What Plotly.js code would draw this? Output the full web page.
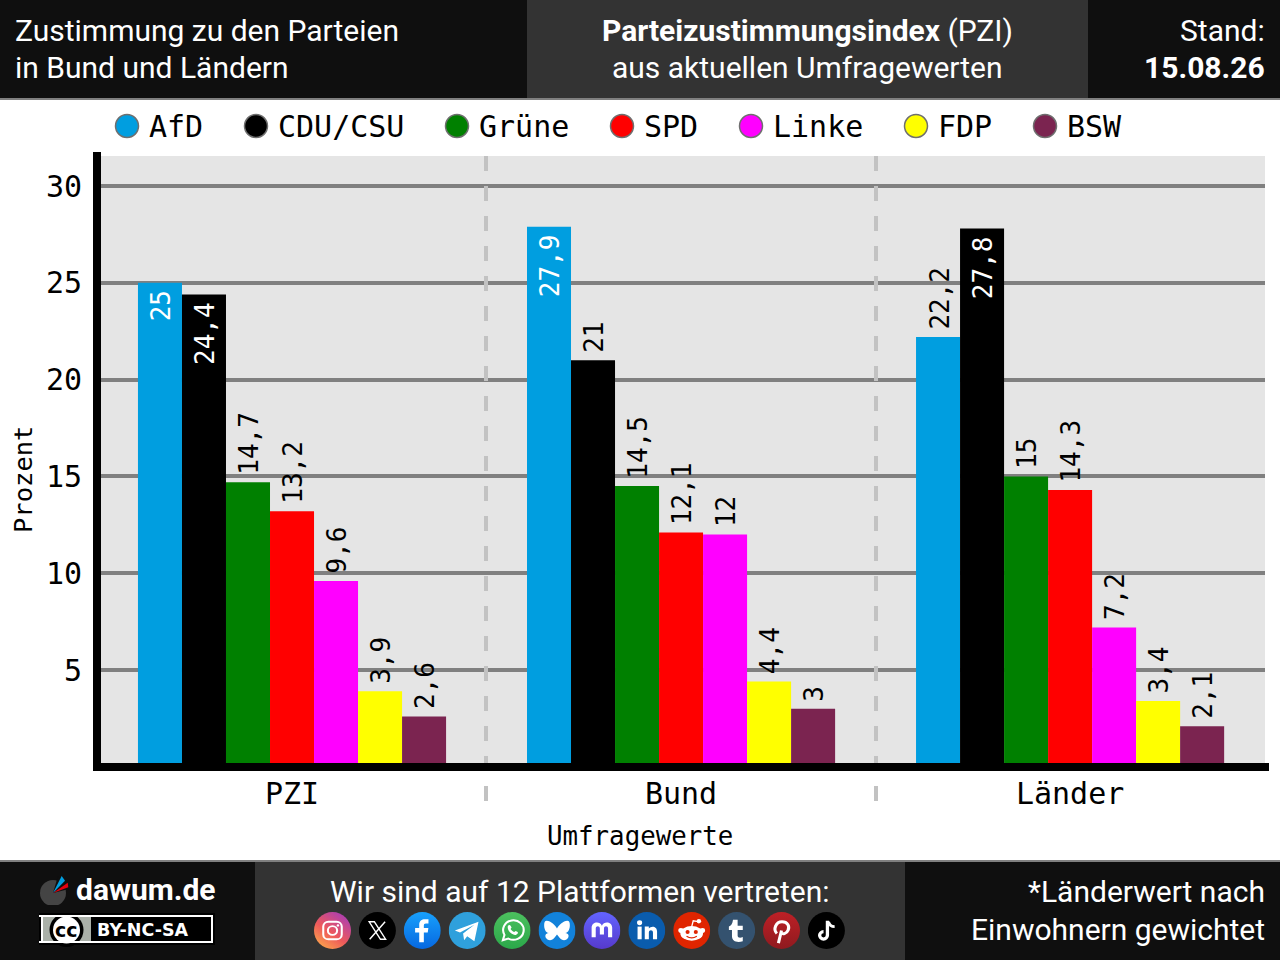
<!DOCTYPE html>
<html>
<head>
<meta charset="utf-8">
<script src="https://cdn.plot.ly/plotly-3.0.1.min.js"></script>
<style>html,body{margin:0;padding:0;background:#fff}#chart{width:1280px;height:960px}</style>
</head>
<body>
<div id="chart"></div>
<script>
const categories = ['PZI', 'Bund', 'Länder'];
const parties = ['AfD', 'CDU/CSU', 'Grüne', 'SPD', 'Linke', 'FDP', 'BSW'];
const partyColors = ['#009ee0', '#000000', '#008000', '#ff0000', '#ff00ff', '#ffff00', '#7b2450'];
const afd = [25, 27.9, 22.2];
const cdu = [24.4, 21, 27.8];
const gruene = [14.7, 14.5, 15];
const spd = [13.2, 12.1, 14.3];
const linke = [9.6, 12, 7.2];
const fdp = [3.9, 4.4, 3.4];
const bsw = [2.6, 3, 2.1];
const seriesValues = [afd, cdu, gruene, spd, linke, fdp, bsw];
const yTicks = [5, 10, 15, 20, 25, 30];

const W = 1280, H = 960;
const PLOT = { l: 101, r: 1265, t: 156, b: 763 };
const MONO = 'DejaVu Sans Mono';
const ROBOTO = 'Roboto';
const BAR_PX = 44; // width of one bar on screen, for centring the value labels

// pixel position -> paper coordinates of the plot area
const px = x => (x - PLOT.l) / (PLOT.r - PLOT.l);
const py = y => (PLOT.b - y) / (PLOT.b - PLOT.t);

function rect(x0, y0, x1, y1, color, layer) {
  return { type: 'rect', xref: 'paper', yref: 'paper', x0: px(x0), x1: px(x1), y0: py(y0), y1: py(y1),
    fillcolor: color, line: { width: 0 }, layer: layer || 'above' };
}
function label(x, y, text, size, anchor, font, color, bold) {
  return { xref: 'paper', yref: 'paper', x: px(x), y: py(y), text: bold ? '<b>' + text + '</b>' : text,
    showarrow: false, xanchor: anchor, yanchor: 'middle', align: anchor,
    borderpad: 0, borderwidth: 0,
    font: { family: font, size: size, color: color } };
}
function svgImage(svg, x, y, w, h) {
  return { source: 'data:image/svg+xml;charset=utf-8,' + encodeURIComponent(svg), xref: 'paper', yref: 'paper',
    x: px(x), y: py(y), sizex: w / (PLOT.r - PLOT.l), sizey: h / (PLOT.b - PLOT.t),
    xanchor: 'left', yanchor: 'top', sizing: 'stretch', layer: 'above' };
}

const traces = seriesValues.map((vals, i) => ({
  type: 'bar',
  name: parties[i],
  x: categories,
  y: vals,
  marker: { color: partyColors[i], line: { width: 0 } },
  hoverinfo: 'x+y'
}));

const shapes = [];
const annotations = [];
const images = [];

// value labels: tall bars carry them inside in white, all others sit above the bar
seriesValues.forEach((vals, i) => {
  vals.forEach((v, c) => {
    const inside = v > 24;
    annotations.push({
      xref: 'x', yref: 'y', x: c, y: v,
      text: String(v).replace('.', ','),
      showarrow: false, textangle: -90,
      xanchor: 'center', yanchor: inside ? 'top' : 'bottom',
      xshift: (i - 3) * BAR_PX + 1,
      yshift: inside ? -8 : 7,
      borderpad: 0, borderwidth: 0,
      font: { family: MONO, size: 26, color: inside ? '#ffffff' : '#000000' }
    });
  });
});

// group separators
[486, 876].forEach(x => {
  shapes.push({ type: 'line', xref: 'paper', yref: 'paper', x0: px(x), x1: px(x), y0: py(156), y1: py(801),
    line: { color: '#c2c2c2', width: 4, dash: '15px,15px' }, layer: 'above' });
});
// axis lines, slightly overshooting the panel
shapes.push(rect(93, 152, 101, 771, '#000000'));
shapes.push(rect(93, 763, 1269, 771, '#000000'));

// header
shapes.push(rect(0, 0, 1280, 98, '#0f0f0f', 'below'));
shapes.push(rect(527, 0, 1088, 98, '#333333', 'below'));
shapes.push(rect(0, 98, 1280, 100, '#808080', 'below'));
annotations.push(label(15, 31, 'Zustimmung zu den Parteien', 30, 'left', ROBOTO, '#ffffff'));
annotations.push(label(15, 67, 'in Bund und Ländern', 30, 'left', ROBOTO, '#ffffff'));
annotations.push(label(807.5, 31, '<b>Parteizustimmungsindex</b> (PZI)', 30, 'center', ROBOTO, '#ffffff'));
annotations.push(label(807.5, 67, 'aus aktuellen Umfragewerten', 30, 'center', ROBOTO, '#ffffff'));
annotations.push(label(1265, 31, 'Stand:', 30, 'right', ROBOTO, '#ffffff'));
annotations.push(label(1265, 67, '15.08.26', 30, 'right', ROBOTO, '#ffffff', true));

// legend row
const legendDot = [127, 256, 457, 622, 751, 916, 1045];
const legendText = [148.5, 278, 479, 644, 773, 938, 1066.5];
parties.forEach((p, i) => {
  shapes.push({ type: 'circle', xref: 'paper', yref: 'paper', x0: px(legendDot[i] - 11.5), x1: px(legendDot[i] + 11.5),
    y0: py(126 + 11.5), y1: py(126 - 11.5), fillcolor: partyColors[i], line: { color: '#6f6f6f', width: 1.5 }, layer: 'above' });
  annotations.push(label(legendText[i], 127, p, 30, 'left', MONO, '#000000'));
});

// axis captions
annotations.push(label(640, 836, 'Umfragewerte', 25.8, 'center', MONO, '#000000'));
annotations.push(Object.assign(label(23, 480, 'Prozent', 25.5, 'center', MONO, '#000000'), { textangle: -90 }));

// footer
shapes.push(rect(0, 860, 1280, 862, '#808080', 'below'));
shapes.push(rect(0, 862, 1280, 960, '#0f0f0f', 'below'));
shapes.push(rect(255, 862, 905, 960, '#333333', 'below'));
annotations.push(label(76, 889, '<b>dawum.de</b>', 30, 'left', ROBOTO, '#ffffff'));
annotations.push(label(580, 891, 'Wir sind auf 12 Plattformen vertreten:', 30, 'center', ROBOTO, '#ffffff'));
annotations.push(label(1265, 891, '*Länderwert nach', 30, 'right', ROBOTO, '#ffffff'));
annotations.push(label(1265, 929, 'Einwohnern gewichtet', 30, 'right', ROBOTO, '#ffffff'));

// dawum logo
images.push(svgImage('<svg xmlns="http://www.w3.org/2000/svg" width="30" height="30" viewBox="0 0 30 30"><circle cx="14" cy="18" r="13" fill="#444"/><path d="M14 18L19 1 30 14z" fill="#0f0f0f"/><path d="M14 18L22.700 1 26 5.700z" fill="#009ee0"/><path d="M14 18L28.700 7.700 29.300 12.300z" fill="#e3000f"/></svg>', 39, 875, 30, 30));

// CC badge
shapes.push(rect(39, 913, 215, 945, '#000000'));
shapes.push(rect(41, 915, 213, 943, '#ffffff'));
shapes.push(rect(43, 917, 211, 941, '#000000'));
shapes.push(rect(43, 917, 91, 941, '#aab0a8'));
shapes.push({ type: 'circle', xref: 'paper', yref: 'paper', x0: px(49.5), x1: px(83.5), y0: py(947), y1: py(913), fillcolor: '#000000', line: { width: 0 }, layer: 'above' });
shapes.push(rect(39, 941, 91, 943, '#ffffff'));
shapes.push(rect(39, 915, 91, 917, '#ffffff'));
shapes.push(rect(39, 943, 91, 945, '#000000'));
shapes.push(rect(39, 913, 91, 915, '#000000'));
shapes.push({ type: 'circle', xref: 'paper', yref: 'paper', x0: px(53), x1: px(80), y0: py(943.5), y1: py(916.5), fillcolor: '#ffffff', line: { width: 0 }, layer: 'above' });
annotations.push(label(66.5, 929.5, '<b>cc</b>', 19, 'center', 'DejaVu Sans', '#000000'));
annotations.push(label(96.5, 930, '<b>BY-NC-SA</b>', 17.5, 'left', 'DejaVu Sans', '#ffffff'));

// social icons, simplified
const wrap = (bg, inner, defs) => '<svg xmlns="http://www.w3.org/2000/svg" width="37" height="37" viewBox="0 0 36 38" preserveAspectRatio="none">' + (defs || '') +
  '<ellipse cx="18" cy="19" rx="18" ry="19" fill="' + bg + '"/>' + inner + '</svg>';
const grad = (id, a, b) => '<defs><linearGradient id="' + id + '" x1="0" y1="1" x2="0" y2="0"><stop offset="0" stop-color="' + a + '"/><stop offset="1" stop-color="' + b + '"/></linearGradient></defs>';
const icons = [
  wrap('url(#a)', '<rect x="9" y="10" width="18" height="18" rx="5" fill="none" stroke="#fff" stroke-width="2"/><circle cx="18" cy="19" r="4.500" fill="none" stroke="#fff" stroke-width="2"/><circle cx="23.300" cy="13.800" r="1.200" fill="#fff"/>',
    '<defs><linearGradient id="a" x1="0.100" y1="1" x2="0.800" y2="0"><stop offset="0" stop-color="#fdb04a"/><stop offset="0.450" stop-color="#ee5a5a"/><stop offset="1" stop-color="#a93cb8"/></linearGradient></defs>'),
  wrap('#000', '<path d="M10 10h5l11 18h-5zM25.500 10L10.500 28" fill="none" stroke="#fff" stroke-width="1.400"/>'),
  wrap('url(#b)', '<path d="M15 31V21h-4v-4.500h4v-3.500c0-4 2.500-5.500 5.500-5.500h3.500v4.200h-2.500c-1.500 0-2 .7-2 2.100v2.700h4.400l-.6 4.500h-3.800v10z" fill="#fff"/>', grad('b', '#0668e1', '#18a0fb')),
  wrap('#2fa0dc', '<path d="M6 19L29 10l-4 20-7-5-3 4-1-7 11-9-14 8z" fill="#fff"/>'),
  wrap('url(#c)', '<path d="M9 29l1.600-5.500a10 10 0 1 1 3.700 3.700z" fill="none" stroke="#fff" stroke-width="2"/><path d="M14 14c1-1 2-1 2.500 0l1 2-1 1.500c1 1.500 2 2.500 3.500 3l1.500-1 2 1c.5 1.500-.5 2.500-2 3-4 .5-9-5-7.500-9.500z" fill="#fff"/>', grad('c', '#2ba84a', '#4cc05e')),
  wrap('#1282da', '<path d="M18 17c-1.500-3-6-8-10-8-2 0-2.500 2-2.500 4.500 0 3 1 7.500 4.500 8-3.500 .5-4 3-2.500 5.500 2 3 6 2.500 8-.5l2.500-3.500 2.500 3.500c2 3 6 3.500 8 .5 1.500-2.500 1-5-2.500-5.500 3.500-.5 4.500-5 4.500-8 0-2.500-.5-4.500-2.500-4.500-4 0-8.500 5-10 8z" fill="#fff"/>'),
  wrap('url(#d)', '<path d="M8 26V16c0-6 8-7 10-2 2-5 10-4 10 2v10h-4v-9c0-3-4-3-4 0v6h-4v-6c0-3-4-3-4 0v9z" fill="#fff"/>', grad('d', '#563acc', '#6364ff')),
  wrap('#0a5cad', '<rect x="9" y="15" width="4" height="13" fill="#fff"/><circle cx="11" cy="11" r="2.500" fill="#fff"/><path d="M16 15h4v2c2-3 8-3 8 3v8h-4v-7c0-3-4-3-4 0v7h-4z" fill="#fff"/>'),
  wrap('#e02500', '<ellipse cx="18" cy="22" rx="11" ry="7.500" fill="#fff"/><circle cx="7.500" cy="19" r="2.500" fill="#fff"/><circle cx="28.500" cy="19" r="2.500" fill="#fff"/><circle cx="25" cy="9.500" r="2.200" fill="#fff"/><path d="M18 15l1.500-6 5 1" fill="none" stroke="#fff" stroke-width="1.300"/><circle cx="14" cy="20.500" r="2" fill="#e02500"/><circle cx="22" cy="20.500" r="2" fill="#e02500"/><path d="M13 25c3 2 7 2 10 0" fill="none" stroke="#e02500" stroke-width="1.300"/>'),
  wrap('#34526f', '<path d="M14.500 8h4.500v6h5v4.500h-5v6c0 2 2.500 2.500 5 1.300v4.200c-5 2-10.500 .5-10.500-5V18.500h-3v-3.500c2-.5 3.500-3 4-7z" fill="#fff"/>'),
  wrap('url(#e)', '<path d="M15 32l3-13m-4.500 3c-4-4-1-12 5-12 5.500 0 7.500 4.500 6 8.500-1.500 4-5.500 5-7.500 2.500" fill="none" stroke="#fff" stroke-width="3"/>', grad('e', '#8f1a1f', '#bd2026')),
  wrap('#000', '<path d="M19 9v15a3.800 3.800 0 1 1-3.800-3.800" fill="none" stroke="#fff" stroke-width="3.200"/><path d="M20 10c.5 3 3 5 6 5" fill="none" stroke="#fff" stroke-width="3"/>')
];
icons.forEach((svg, i) => images.push(svgImage(svg, 314 + i * 44.9, 912, 37, 37)));

const layout = {
  width: W,
  height: H,
  autosize: false,
  margin: { l: PLOT.l, r: W - PLOT.r, t: PLOT.t, b: H - PLOT.b, pad: 0 },
  paper_bgcolor: '#ffffff',
  plot_bgcolor: '#e5e5e5',
  showlegend: false,
  barmode: 'group',
  bargap: 0.208,
  bargroupgap: 0,
  font: { family: MONO, color: '#000000' },
  xaxis: {
    type: 'category',
    range: [-0.491, 2.501],
    showgrid: false,
    zeroline: false,
    showline: false,
    ticks: '',
    ticklabelstandoff: 10,
    tickfont: { family: MONO, size: 30, color: '#000000' },
    automargin: false
  },
  yaxis: {
    range: [0.196, 31.55],
    tickmode: 'array',
    tickvals: yTicks,
    ticktext: yTicks.map(String),
    showgrid: true,
    gridcolor: '#808080',
    gridwidth: 4,
    zeroline: false,
    showline: false,
    ticks: '',
    ticklabelstandoff: 18,
    tickfont: { family: MONO, size: 30, color: '#000000' },
    automargin: false
  },
  shapes: shapes,
  annotations: annotations,
  images: images
};

Plotly.newPlot('chart', traces, layout, { displayModeBar: false, staticPlot: true });
</script>
</body>
</html>
